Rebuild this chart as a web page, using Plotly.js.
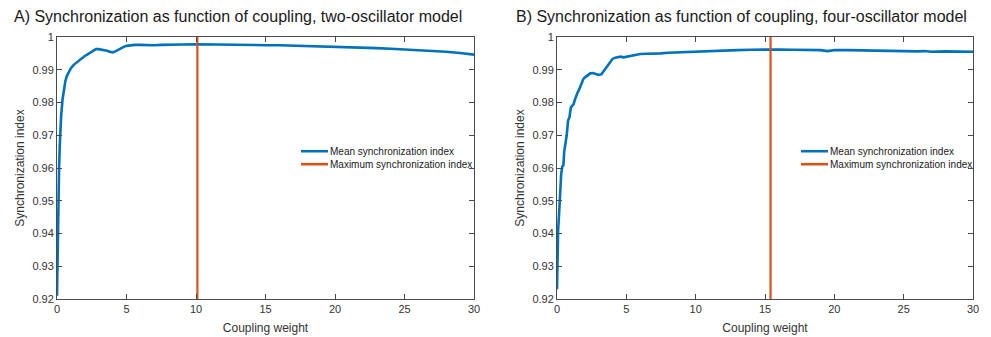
<!DOCTYPE html>
<html>
<head>
<meta charset="utf-8">
<script src="https://cdn.plot.ly/plotly-3.0.1.min.js"></script>
<style>html,body{margin:0;padding:0;background:#fff}#chart{width:991px;height:337px}</style>
</head>
<body>
<div id="chart"></div>
<script>
// ---- Data ----
const couplingA = [0, 0.03, 0.06, 0.1, 0.15, 0.2, 0.25, 0.3, 0.4, 0.5, 0.6, 0.7, 0.8, 0.9, 1.0, 1.2, 1.4, 1.6, 1.8, 2.0, 2.2, 2.4, 2.6, 2.8, 3.0, 3.2, 3.4, 3.6, 3.8, 4.0, 4.2, 4.4, 4.6, 4.8, 5.0, 5.3, 5.6, 6.0, 6.5, 7, 7.5, 8, 9, 10, 11, 12, 13, 14, 15, 16, 17, 18, 19, 20, 21, 22, 23, 24, 25, 26, 27, 28, 29, 30];
const meanSyncA = [0.921, 0.932, 0.942, 0.951, 0.960, 0.967, 0.972, 0.976, 0.981, 0.9845, 0.9865, 0.988, 0.989, 0.9898, 0.9905, 0.9915, 0.9922, 0.9930, 0.9936, 0.9942, 0.9947, 0.9953, 0.9959, 0.9963, 0.9963, 0.9962, 0.9960, 0.9958, 0.9955, 0.9953, 0.9956, 0.9961, 0.9966, 0.9970, 0.9973, 0.9975, 0.9976, 0.9976, 0.9975, 0.9975, 0.9976, 0.9977, 0.9977, 0.9978, 0.9977, 0.9977, 0.9976, 0.9976, 0.9975, 0.9975, 0.9974, 0.9973, 0.9972, 0.9971, 0.9970, 0.9968, 0.9966, 0.9964, 0.9962, 0.9959, 0.9957, 0.9955, 0.9951, 0.9946];
const maxCouplingA = 10.1;

const couplingB = [0, 0.04, 0.08, 0.15, 0.22, 0.3, 0.38, 0.46, 0.52, 0.6, 0.7, 0.8, 0.9, 1.0, 1.1, 1.2, 1.3, 1.4, 1.5, 1.6, 1.7, 1.8, 1.9, 2.0, 2.2, 2.4, 2.6, 2.8, 3.0, 3.2, 3.4, 3.6, 3.8, 4.0, 4.2, 4.4, 4.6, 4.8, 5.0, 5.3, 5.6, 6.0, 6.5, 7, 7.5, 8, 9, 10, 11, 12, 13, 14, 15, 16, 17, 18, 19, 19.5, 20, 21, 22, 23, 24, 25, 26, 26.5, 27, 28, 29, 30];
const meanSyncB = [0.923, 0.935, 0.941, 0.946, 0.952, 0.958, 0.9605, 0.9608, 0.9650, 0.9670, 0.9700, 0.9745, 0.9755, 0.9785, 0.9790, 0.9795, 0.9810, 0.9825, 0.9832, 0.9840, 0.9852, 0.9866, 0.9872, 0.9876, 0.9884, 0.9889, 0.9890, 0.9887, 0.9884, 0.9886, 0.9898, 0.9910, 0.9922, 0.9933, 0.9937, 0.9938, 0.9940, 0.9938, 0.9940, 0.9942, 0.9945, 0.9948, 0.9949, 0.9949, 0.9950, 0.9952, 0.9954, 0.9955, 0.9957, 0.9958, 0.9960, 0.9961, 0.9962, 0.9962, 0.9961, 0.9961, 0.9960, 0.9957, 0.9960, 0.9960, 0.9959, 0.9959, 0.9958, 0.9958, 0.9956, 0.9957, 0.9955, 0.9956, 0.9956, 0.9955];
const maxCouplingB = 15.4;

const yRange = [0.92, 1];
const xTickVals = [0, 5, 10, 15, 20, 25, 30];
const yTickVals = [0.92, 0.93, 0.94, 0.95, 0.96, 0.97, 0.98, 0.99, 1];
const yTickText = ['0.92', '0.93', '0.94', '0.95', '0.96', '0.97', '0.98', '0.99', '1'];
const titles = ['A) Synchronization as function of coupling, two-oscillator model',
                'B) Synchronization as function of coupling, four-oscillator model'];
const seriesNames = ['Mean synchronization index', 'Maximum synchronization index'];

// ---- Styles ----
const BLUE = '#0072BD', RED = '#D95319', AXC = '#4a4a4a', TXT = '#333333';
const FONT = 'Liberation Sans, Arial, sans-serif';

const traces = [
  {x: couplingA, y: meanSyncA, xaxis: 'x', yaxis: 'y', mode: 'lines', name: seriesNames[0],
   line: {color: BLUE, width: 2.6}, showlegend: false},
  {x: [maxCouplingA, maxCouplingA], y: yRange, xaxis: 'x', yaxis: 'y', mode: 'lines', name: seriesNames[1],
   line: {color: RED, width: 2.2}, showlegend: false},
  {x: couplingB, y: meanSyncB, xaxis: 'x2', yaxis: 'y2', mode: 'lines', name: seriesNames[0],
   line: {color: BLUE, width: 2.6}, showlegend: false},
  {x: [maxCouplingB, maxCouplingB], y: yRange, xaxis: 'x2', yaxis: 'y2', mode: 'lines', name: seriesNames[1],
   line: {color: RED, width: 2.2}, showlegend: false}
];

const W = 991, H = 337;
const yDom = [1 - 299 / H, 1 - 37 / H];
function xAx(dom, anchor) {
  return {domain: dom, anchor: anchor, range: [0, 30], tickvals: xTickVals,
    showgrid: false, zeroline: false, showline: true, linecolor: AXC, linewidth: 1,
    mirror: 'ticks', ticks: 'inside', ticklen: 5, tickcolor: AXC, tickwidth: 1,
    tickfont: {family: FONT, size: 11, color: TXT},
    title: {text: 'Coupling weight', font: {family: FONT, size: 12, color: TXT}, standoff: 9}};
}
function yAx(anchor) {
  return {domain: yDom, anchor: anchor, range: yRange, tickvals: yTickVals, ticktext: yTickText,
    showgrid: false, zeroline: false, showline: true, linecolor: AXC, linewidth: 1,
    mirror: 'ticks', ticks: 'inside', ticklen: 5, tickcolor: AXC, tickwidth: 1,
    tickfont: {family: FONT, size: 11, color: TXT},
    title: {text: 'Synchronization index', font: {family: FONT, size: 12, color: TXT}, standoff: 5}};
}

const annotations = [
  {text: titles[0], xref: 'paper', yref: 'paper', x: 12 / W, y: 1 - 17 / H, xanchor: 'left', yanchor: 'middle',
   showarrow: false, font: {family: FONT, size: 16, color: '#1a1a1a'}},
  {text: titles[1], xref: 'paper', yref: 'paper', x: 514 / W, y: 1 - 17 / H, xanchor: 'left', yanchor: 'middle',
   showarrow: false, font: {family: FONT, size: 16, color: '#1a1a1a'}}
];
const shapes = [];
// Legends (drawn inside each plot, top-right, no border): one two-line text block each
[301, 801].forEach(function (x0) {
  const yc = 157.5;
  [[BLUE, yc - 6.3], [RED, yc + 6.7]].forEach(function (it) {
    shapes.push({type: 'line', xref: 'paper', yref: 'paper', x0: x0 / W, x1: (x0 + 27) / W,
      y0: 1 - it[1] / H, y1: 1 - it[1] / H, line: {color: it[0], width: 2.6}});
  });
  annotations.push({text: seriesNames.join('<br>'), xref: 'paper', yref: 'paper', x: (x0 + 28) / W, y: 1 - yc / H,
    xanchor: 'left', yanchor: 'middle', align: 'left', showarrow: false, borderpad: 0,
    font: {family: FONT, size: 10, color: '#1a1a1a'}});
});

const layout = {
  width: W, height: H, margin: {l: 0, r: 0, t: 0, b: 0},
  paper_bgcolor: '#fff', plot_bgcolor: '#fff', showlegend: false,
  xaxis: xAx([57 / W, 474 / W], 'y'), yaxis: yAx('x'),
  xaxis2: xAx([557 / W, 973 / W], 'y2'), yaxis2: yAx('x2'),
  annotations: annotations, shapes: shapes
};
Plotly.newPlot('chart', traces, layout, {displayModeBar: false, staticPlot: true});
</script>
</body>
</html>
